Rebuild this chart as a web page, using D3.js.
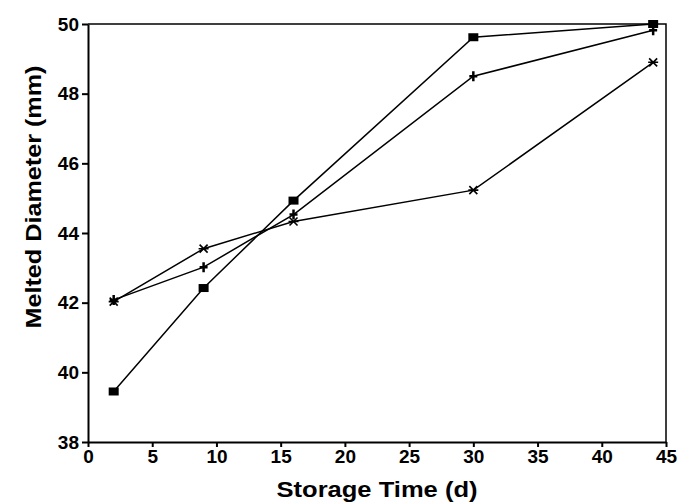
<!DOCTYPE html>
<html>
<head>
<meta charset="utf-8">
<script src="https://cdn.jsdelivr.net/npm/d3@7"></script>
<style>
  body { margin: 0; background: #fff; }
  text { font-family: "Liberation Sans", Arial, sans-serif; font-weight: bold; fill: #000; }
</style>
</head>
<body>
<div id="chart"></div>
<script>
// storage days
var days = [2, 9, 16, 30, 44];
// melted diameter (mm), one list per series
var squareSeries = [39.45, 42.42, 44.93, 49.62, 50.0];
var plusSeries = [42.08, 43.02, 44.53, 48.5, 49.82];
var starSeries = [42.03, 43.55, 44.33, 45.23, 48.9];
var xTicks = [0, 5, 10, 15, 20, 25, 30, 35, 40, 45];
var yTicks = [38, 40, 42, 44, 46, 48, 50];

var width = 678;
var height = 502;
var margin = {top: 24, right: 12, bottom: 60, left: 88};

var svg = d3.select('#chart')
  .append('svg')
  .attr('width', width)
  .attr('height', height);

var x = d3.scaleLinear()
  .domain([0, 45])
  .range([margin.left, width - margin.right]);

var y = d3.scaleLinear()
  .domain([38, 50])
  .range([height - margin.bottom, margin.top]);

// frame (top and right)
svg.append('path')
  .attr('d', `M${x(0)},${y(50)}H${x(45)}V${y(38)}`)
  .attr('fill', 'none')
  .attr('stroke', '#000')
  .attr('stroke-width', 1.5);

var xAxis = svg.append('g')
  .attr('transform', `translate(0, ${y(38)})`)
  .call(d3.axisBottom(x).tickValues(xTicks).tickSize(5).tickPadding(3).tickSizeOuter(0));

var yAxis = svg.append('g')
  .attr('transform', `translate(${x(0)}, 0)`)
  .call(d3.axisLeft(y).tickValues(yTicks).tickSize(6).tickPadding(3).tickSizeOuter(0));

[xAxis, yAxis].forEach(function(ax){
  ax.select('.domain').attr('stroke-width', 2);
  ax.selectAll('.tick line').attr('stroke-width', 2);
  ax.selectAll('.tick text').style('font-size', '19px');
});

// axis titles
svg.append('text')
  .attr('x', (x(0) + x(45)) / 2 - 0)
  .attr('y', 497)
  .attr('text-anchor', 'middle')
  .attr('textLength', 201)
  .attr('lengthAdjust', 'spacingAndGlyphs')
  .style('font-size', '22px')
  .text('Storage Time (d)');

svg.append('text')
  .attr('transform', `translate(41, ${(y(38) + y(50)) / 2 - 36}) rotate(-90)`)
  .attr('text-anchor', 'middle')
  .attr('textLength', 263)
  .attr('lengthAdjust', 'spacingAndGlyphs')
  .style('font-size', '22px')
  .text('Melted Diameter (mm)');

var line = d3.line()
  .x((d) => x(d[0]))
  .y((d) => y(d[1]));

function drawSeries(values, marker){
  var pts = days.map((d, i) => [d, values[i]]);
  svg.append('path')
    .datum(pts)
    .attr('d', line)
    .attr('fill', 'none')
    .attr('stroke', '#000')
    .attr('stroke-width', 1.5);
  var g = svg.append('g');
  pts.forEach(function(p){
    var cx = x(p[0]), cy = y(p[1]);
    if(marker === 'square'){
      g.append('rect')
        .attr('x', cx - 5).attr('y', cy - 4)
        .attr('width', 10).attr('height', 8)
        .attr('fill', '#000');
    } else if(marker === 'plus'){
      g.append('path')
        .attr('d', `M${cx - 4},${cy}H${cx + 4}M${cx},${cy - 5}V${cy + 5}`)
        .attr('stroke', '#000').attr('stroke-width', 2.5);
    } else {
      g.append('path')
        .attr('d', `M${cx - 5},${cy}H${cx + 5}M${cx - 4},${cy - 4}L${cx + 4},${cy + 4}M${cx - 4},${cy + 4}L${cx + 4},${cy - 4}`)
        .attr('stroke', '#000').attr('stroke-width', 1.6);
    }
  });
}

drawSeries(squareSeries, 'square');
drawSeries(plusSeries, 'plus');
drawSeries(starSeries, 'star');
</script>
</body>
</html>
